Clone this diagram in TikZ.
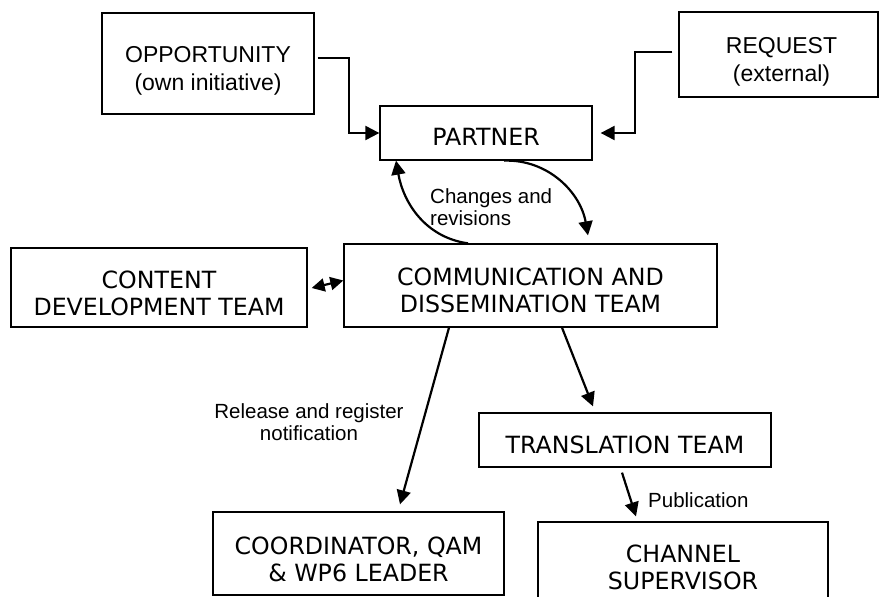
\documentclass[tikz,border=0pt]{standalone}
\usepackage{fontspec}
\setmainfont{Liberation Sans}
\newfontfamily\vfont{DejaVu Sans}
\usetikzlibrary{arrows.meta}
\begin{document}
\begin{tikzpicture}[x=1pt,y=-1pt,
  box/.style={draw, line width=1.3pt, inner sep=0pt},
  atext/.style={inner sep=0pt, align=center, font=\fontsize{23}{28}\selectfont, yshift=-7pt},
  vtext/.style={inner sep=0pt, align=center, font=\vfont\fontsize{23.7}{27.5}\selectfont, yshift=-5pt},
  lbl/.style={inner sep=0pt, font=\fontsize{20.5}{22}\selectfont},
  arr/.style={line width=2.2pt, -{Triangle[length=14pt,width=14pt]}},
  darr/.style={line width=2.2pt, {Triangle[length=13pt,width=13pt]}-{Triangle[length=13pt,width=13pt]}}
]
\useasboundingbox (0,0) rectangle (879,597);
\clip (0,0) rectangle (879,597);
\fill[white] (0,0) rectangle (879,597);

\node[box, minimum width=212pt, minimum height=101pt,
  label={[atext]center:{OPPORTUNITY\\(own initiative)}}] (opp) at (208,63.5) {};
\node[box, minimum width=199pt, minimum height=85pt,
  label={[atext, xshift=3pt]center:{REQUEST\\(external)}}] (req) at (778.5,54.5) {};
\node[box, minimum width=212pt, minimum height=54pt,
  label={[vtext, yshift=1pt]center:{PARTNER}}] (partner) at (486,133) {};
\node[box, minimum width=373pt, minimum height=83pt,
  label={[vtext]center:{COMMUNICATION AND\\DISSEMINATION TEAM}}] (cds) at (530.5,285.5) {};
\node[box, minimum width=296pt, minimum height=79pt,
  label={[vtext, yshift=-1pt]center:{CONTENT\\DEVELOPMENT TEAM}}] (cdt) at (159,287.5) {};
\node[box, minimum width=292pt, minimum height=54pt,
  label={[vtext]center:{TRANSLATION TEAM}}] (trans) at (625,440) {};
\node[box, minimum width=291pt, minimum height=83pt,
  label={[vtext, yshift=-1pt]center:{COORDINATOR, QAM\\\&~WP6 LEADER}}] (coord) at (358.5,553.5) {};
\node[box, minimum width=290pt, minimum height=88pt,
  label={[vtext, yshift=3.5pt]center:{CHANNEL\\SUPERVISOR}}] (chan) at (683,566) {};

\node[lbl, anchor=west, align=left] (chg) at (430,207) {Changes and\\revisions};
\node[lbl, align=center] (rel) at (309,422) {Release and register\\notification};
\node[lbl, anchor=west] (pub) at (648,500) {Publication};

\draw[arr] ([xshift=3pt,yshift=5.5pt]opp.east) -- ++(31,0) |- (partner.west);
\draw[arr] ([xshift=-6pt,yshift=2.5pt]req.west) -- ++(-37,0) |- ([xshift=8pt]partner.east);
\draw[arr] ([xshift=-62.5pt]cds.north) to[out=172,in=-80] ([xshift=-90pt]partner.south);
\draw[arr] ([xshift=18pt]partner.south) to[out=2,in=100] ([xshift=57.5pt,yshift=8pt]cds.north);
\draw[darr] ([xshift=4pt,yshift=-0.5pt]cdt.east) -- ([yshift=5pt]cds.west);
\draw[arr] ([xshift=-81.5pt]cds.south) -- ([xshift=41.5pt,yshift=7pt]coord.north);
\draw[arr] ([xshift=31.5pt]cds.south) -- ([xshift=-32pt,yshift=6pt]trans.north);
\draw[arr] ([xshift=-3pt,yshift=-5pt]trans.south) -- ([xshift=-47pt,yshift=5pt]chan.north);
\end{tikzpicture}
\end{document}
